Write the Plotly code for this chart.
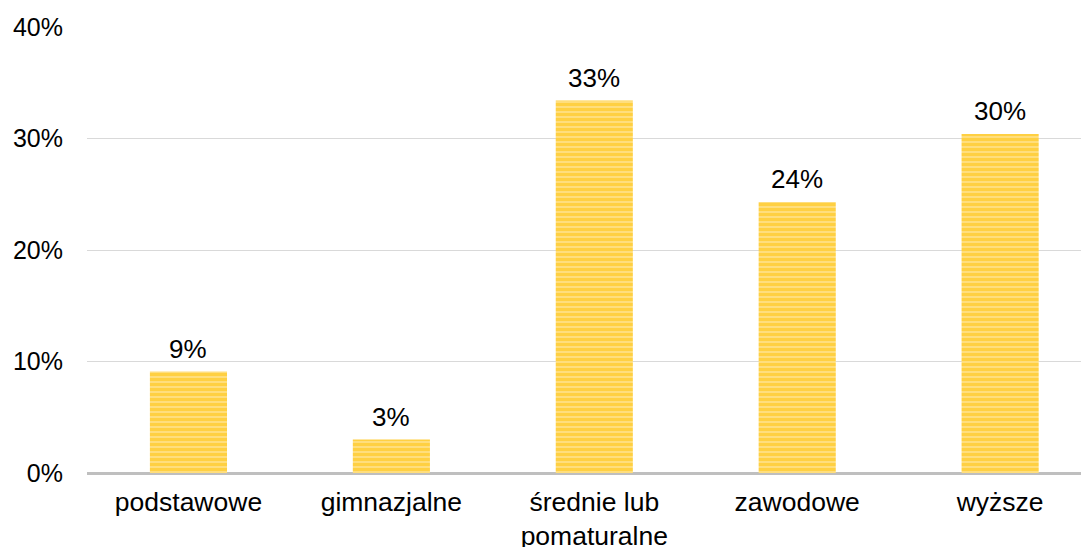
import plotly.graph_objects as go

categories = ["podstawowe", "gimnazjalne", "średnie lub<br>pomaturalne", "zawodowe", "wyższe"]
values = [9.1, 3.0, 33.4, 24.3, 30.4]
labels = ["9%", "3%", "33%", "24%", "30%"]
tick_vals = [0, 10, 20, 30, 40]
tick_text = ["0%", "10%", "20%", "30%", "40%"]

FONT = "Liberation Sans, Arial, sans-serif"

fig = go.Figure(go.Bar(
    x=list(range(len(categories))),
    y=values,
    cliponaxis=False,
    marker=dict(
        color="#FFDE7A",
        line=dict(width=0),
        pattern=dict(shape="-", fgcolor="#FFC000", bgcolor="#FFE084", size=5, solidity=0.65, fillmode="overlay"),
    ),
    width=0.38,
))

for i, (v, t) in enumerate(zip(values, labels)):
    fig.add_annotation(x=i, y=v, text=t, showarrow=False, yanchor="bottom", yshift=6,
                       font=dict(family=FONT, size=26, color="#000000"))

# The page body has an 8px margin, so the figure is shifted by 8px down/right.
fig.update_layout(
    width=1081, height=539,
    margin=dict(l=79, r=0, t=19, b=74, autoexpand=False),
    paper_bgcolor="white", plot_bgcolor="white",
    showlegend=False,
    font=dict(family=FONT, size=25, color="#000000"),
    xaxis=dict(
        range=[-0.5, 4.438],
        tickmode="array", tickvals=list(range(len(categories))), ticktext=categories,
        tickfont=dict(size=26.5), automargin=False,
        showgrid=False, zeroline=False, showline=False, ticks="",
        ticklabelstandoff=10,
    ),
    yaxis=dict(
        range=[0, 40], tickmode="array", tickvals=tick_vals, ticktext=tick_text,
        automargin=False,
        showgrid=True, gridcolor="#D9D9D9", gridwidth=1,
        zeroline=True, zerolinecolor="#BFBFBF", zerolinewidth=3,
        showline=False, ticks="", ticklabelstandoff=23,
    ),
)

fig.write_html("out.html")
